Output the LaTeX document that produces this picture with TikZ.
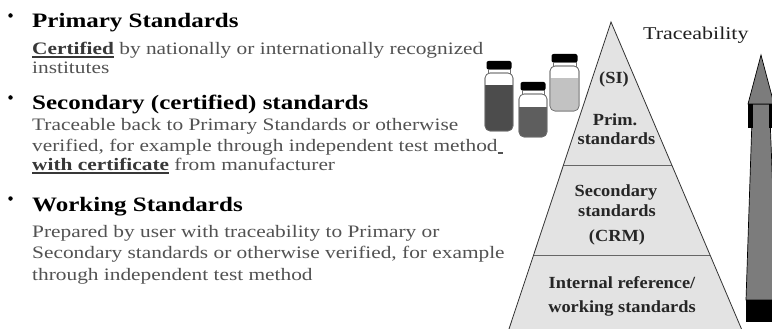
\documentclass[tikz,border=0pt]{standalone}
\usepackage{fontspec}
\setmainfont{Liberation Serif}
\newfontfamily\bodyfont[FakeStretch=1.22]{Liberation Serif}
\newfontfamily\pyrfont[FakeStretch=1.08]{Liberation Serif}
\definecolor{bodygray}{HTML}{525252}
\definecolor{markgray}{HTML}{383838}
\definecolor{pyrfill}{HTML}{E3E3E3}
\definecolor{arrowgray}{HTML}{7C7C7C}
\definecolor{vialedge}{HTML}{6E6E6E}

% underlined bold phrase with a heavier rule
\newcommand\markword[1]{\textcolor{markgray}{\bfseries\setbox0\hbox{#1}%
  \rlap{\rule[-2.6pt]{\wd0}{1.2pt}}\box0}}

% one vial: left, right, cap top, liquid top, bottom, liquid colour
\newcommand\drawvial[6]{%
  \fill[black, rounded corners=2pt] (#1+1.5,#3) rectangle (#2-1.5,#3+8.5);
  \draw[vialedge, fill=white, line width=0.6pt] (#1+3,#3+8.5) rectangle (#2-3,#3+12);
  \draw[vialedge, fill=white, line width=0.6pt, rounded corners=5pt]
    (#1,#3+12) rectangle (#2,#5);
  \begin{scope}
    \clip[rounded corners=5pt] (#1,#3+12) rectangle (#2,#5);
    \fill[#6] (#1,#4) rectangle (#2,#5);
  \end{scope}
  \draw[vialedge, line width=0.6pt, rounded corners=5pt] (#1,#3+12) rectangle (#2,#5);
}

\begin{document}
\begin{tikzpicture}[x=1pt,y=-1pt,
  heading/.style={anchor=base west, inner sep=0pt,
    font=\bodyfont\bfseries\fontsize{20.5}{20.5}\selectfont, text=black},
  body/.style={anchor=base west, inner sep=0pt,
    font=\bodyfont\fontsize{17.5}{17.5}\selectfont, text=bodygray},
  pyrtext/.style={anchor=base, inner sep=0pt,
    font=\pyrfont\bfseries\fontsize{17}{17}\selectfont, text=black!85},
  bulletdot/.style={circle, fill=black, inner sep=0pt, minimum size=4.5pt},
  sep/.style={draw=black!60, line width=0.7pt},
  edge/.style={draw=black!80, line width=0.8pt}]

\useasboundingbox (0,0) rectangle (772,329);
\fill[white] (0,0) rectangle (772,329);

% ---- bullet list ----
\node[bulletdot] (b1) at (10.5,15.5) {};
\node[heading] (h1) at (32,28) {Primary Standards};
\node[body] (t11) at (32,55) {\markword{Certified} by nationally or internationally recognized};
\node[body] (t12) at (32,74) {institutes};

\node[bulletdot] (b2) at (10.5,97.5) {};
\node[heading] (h2) at (32,110) {Secondary (certified) standards};
\node[body] (t21) at (32,131) {Traceable back to Primary Standards or otherwise};
\node[body] (t22) at (32,151) {verified, for example through independent test method\rule[-2.6pt]{5pt}{1.1pt}};
\node[body] (t23) at (32,171) {\markword{with certificate} from manufacturer};

\node[bulletdot] (b3) at (10.5,198.5) {};
\node[heading] (h3) at (32,211) {Working Standards};
\node[body] (t31) at (32,237) {Prepared by user with traceability to Primary or};
\node[body] (t32) at (32,258) {Secondary standards or otherwise verified, for example};
\node[body] (t33) at (32,280) {through independent test method};

% ---- vials ----
\drawvial{485}{513}{61}{85}{131}{black!70}
\drawvial{519}{547}{82}{107}{137}{black!63}
\drawvial{550}{579}{54}{78}{111}{black!24}

% ---- pyramid ----
\coordinate (apex) at (611,22);
\coordinate (bl) at (509,329);
\coordinate (br) at (741.5,329);
\fill[pyrfill] (apex) -- (bl) -- (br) -- cycle;
\draw[sep] (563.4,165) -- (671.8,165);
\draw[sep] (533.4,255) -- (710,255);
\draw[edge] (bl) -- (apex) -- (br);

\node[pyrtext] (si) at (614,84) {(SI)};
\node[pyrtext] (p1) at (615,125) {Prim.};
\node[pyrtext] (p2) at (616.5,145) {standards};
\node[pyrtext] (s1) at (616,196) {Secondary};
\node[pyrtext] (s2) at (617,216) {standards};
\node[pyrtext] (s3) at (617,241) {(CRM)};
\node[pyrtext] (w1) at (622,288) {Internal reference/};
\node[pyrtext] (w2) at (622,312) {working standards};

\node[anchor=base west, inner sep=0pt, font=\bodyfont\fontsize{18}{18}\selectfont,
  text=black!88] (trace) at (643,40) {Traceability};

% ---- traceability arrow ----
\begin{scope}
  \clip (0,0) rectangle (772,329);
  \draw[black, line width=0.7pt, fill=arrowgray]
    (752.5,104) -- (746,300) -- (777,300) -- (769.5,104) -- cycle;
  \draw[black, line width=0.7pt, fill=arrowgray]
    (748,104) -- (761,55) -- (774,104) -- cycle;
  \fill[black] (748,104) rectangle (753,128);
  \fill[black] (769,104) rectangle (774,128);
  \fill[black] (746,300) rectangle (778,322);
\end{scope}
\end{tikzpicture}
\end{document}
